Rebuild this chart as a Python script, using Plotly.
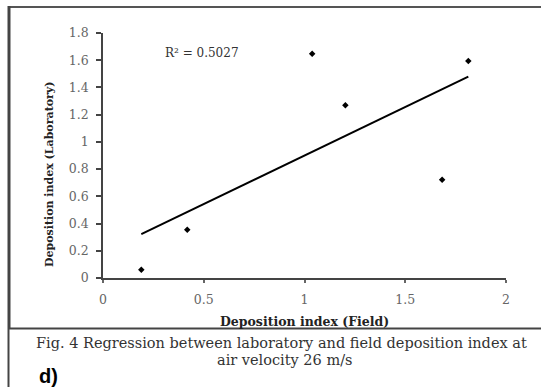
import numpy as np
import plotly.graph_objects as go

# Data
field = [0.19, 0.418, 1.038, 1.203, 1.683, 1.813]
laboratory = [0.061, 0.354, 1.648, 1.269, 0.721, 1.594]
r2_label = "R² = 0.5027"
x_ticks = [0, 0.5, 1, 1.5, 2]
x_tick_text = ["0", "0.5", "1", "1.5", "2"]
y_ticks = [0, 0.2, 0.4, 0.6, 0.8, 1.0, 1.2, 1.4, 1.6, 1.8]
y_tick_text = ["0", "0.2", "0.4", "0.6", "0.8", "1", "1.2", "1.4", "1.6", "1.8"]
x_title = "Deposition index (Field)"
y_title = "Deposition index (Laboratory)"
caption1 = "Fig. 4 Regression between laboratory and field deposition index at"
caption2 = "air velocity 26 m/s"
panel = "d)"

W, H = 541, 387
ML, MR, MT, MB = 103, 35, 33, 109
PW, PH = W - ML - MR, H - MT - MB


def px(x):
    return (x - ML) / PW


def py(y):
    return (H - MB - y) / PH


slope, intercept = np.polyfit(field, laboratory, 1)
xl = np.array([min(field), max(field)])
yl = slope * xl + intercept

fig = go.Figure()
fig.add_trace(go.Scatter(x=xl, y=yl, mode="lines",
                         line=dict(color="black", width=2), showlegend=False))
fig.add_trace(go.Scatter(x=field, y=laboratory, mode="markers",
                         marker=dict(symbol="diamond", size=5, color="black"),
                         showlegend=False))

serif = "DejaVu Serif"
fig.update_layout(
    width=W, height=H,
    margin=dict(l=ML, r=MR, t=MT, b=MB),
    paper_bgcolor="white", plot_bgcolor="white",
    xaxis=dict(range=[0, 2], tickvals=x_ticks, ticktext=x_tick_text,
               showgrid=False, zeroline=False, showline=True,
               linecolor="#444", linewidth=1.5, ticks="outside", ticklen=3,
               tickcolor="#666", tickwidth=1.5, ticklabelstandoff=6,
               tickfont=dict(family=serif, size=12.5, color="#666")),
    yaxis=dict(range=[0, 1.8], tickvals=y_ticks, ticktext=y_tick_text,
               showgrid=False, zeroline=False, showline=True,
               linecolor="#444", linewidth=1.5, ticks="outside", ticklen=5,
               tickcolor="#444", tickwidth=1.5, ticklabelstandoff=5,
               tickfont=dict(family=serif, size=12.5, color="#666")),
)

ann = [
    dict(x=px(163), y=py(53), text=r2_label, xanchor="left", yanchor="middle",
         font=dict(family=serif, size=12, color="#333")),
    dict(x=px(304), y=py(321), text="<b>" + x_title + "</b>", xanchor="center",
         yanchor="middle", font=dict(family="DejaVu Serif", size=12.5, color="#222")),
    dict(x=px(49), y=py(175), text="<b>" + y_title + "</b>", textangle=-90,
         xanchor="center", yanchor="middle",
         font=dict(family="DejaVu Serif", size=11, color="#222")),
    dict(x=px(281), y=py(343), text=caption1, xanchor="center", yanchor="middle",
         font=dict(family="DejaVu Serif", size=14.5, color="#333")),
    dict(x=px(284), y=py(360), text=caption2, xanchor="center", yanchor="middle",
         font=dict(family="DejaVu Serif", size=14.5, color="#333")),
    dict(x=px(37), y=py(376), text="<b>" + panel + "</b>", xanchor="left",
         yanchor="middle", font=dict(family="Liberation Sans", size=20, color="black")),
]
for a in ann:
    a.update(xref="paper", yref="paper", showarrow=False)
fig.update_layout(annotations=ann)

shapes = [
    dict(type="line", x0=px(8), x1=px(541), y0=py(7), y1=py(7),
         line=dict(color="#555", width=2)),
    dict(type="line", x0=px(9), x1=px(9), y0=py(6), y1=py(329),
         line=dict(color="#444", width=3)),
    dict(type="line", x0=px(8.5), x1=px(8.5), y0=py(329), y1=py(387),
         line=dict(color="#444", width=2)),
    dict(type="line", x0=px(8), x1=px(541), y0=py(328.5), y1=py(328.5),
         line=dict(color="#444", width=2)),
]
for s in shapes:
    s.update(xref="paper", yref="paper")
fig.update_layout(shapes=shapes)

fig.write_html("out.html")
